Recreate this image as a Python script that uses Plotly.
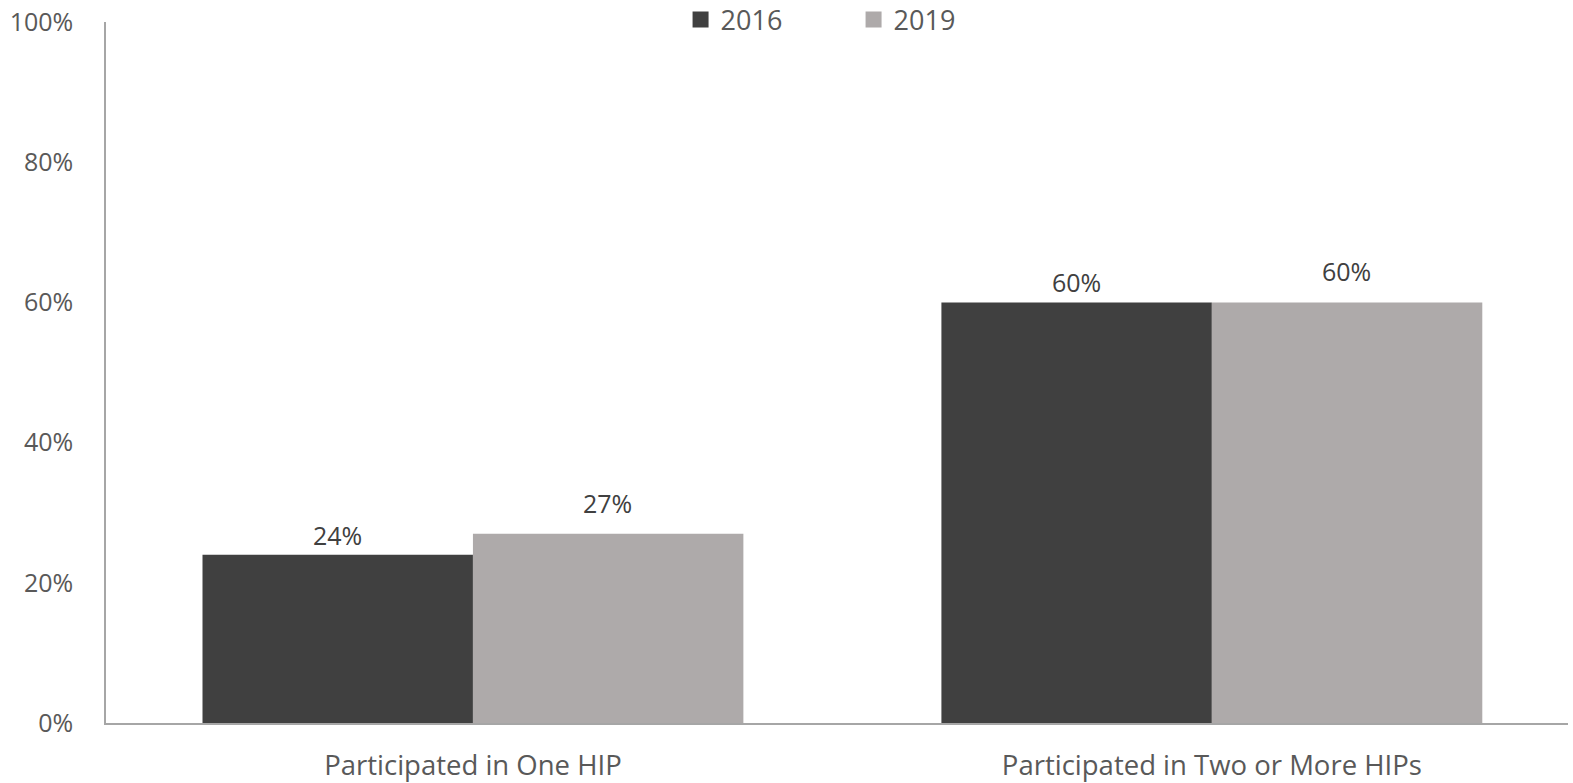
import plotly.graph_objects as go

categories = ["Participated in One HIP", "Participated in Two or More HIPs"]
years = ["2016", "2019"]
values_2016 = [24, 60]
values_2019 = [27, 60]
tick_vals = [0, 20, 40, 60, 80, 100]
tick_text = ["0%", "20%", "40%", "60%", "80%", "100%"]
colors = {"2016": "#404040", "2019": "#AEAAAA"}

FONT = "Open Sans"

fig = go.Figure()
series = {"2016": values_2016, "2019": values_2019}
for yr in years:
    fig.add_trace(
        go.Bar(
            x=categories,
            y=series[yr],
            name=yr,
            showlegend=False,
            marker=dict(color=colors[yr], line=dict(width=0)),
        )
    )
# legend proxies, so the squares are as big as in the original
for yr in years:
    fig.add_trace(
        go.Scatter(
            x=[None], y=[None], mode="markers", name=yr,
            marker=dict(symbol="square", size=18, color=colors[yr]),
        )
    )

# data labels (2019 labels sit a bit higher in the original)
shift = {"2016": (-135, 1), "2019": (135, 12)}
for yr in years:
    for cat, v in zip(categories, series[yr]):
        fig.add_annotation(
            x=cat, y=v, text=f"{v}%", showarrow=False,
            xshift=shift[yr][0], yshift=shift[yr][1], yanchor="bottom",
            font=dict(family=FONT, size=25, color="#404040"),
        )

fig.update_layout(
    width=1573, height=783,
    margin=dict(l=106, r=5, t=22, b=60, autoexpand=False),
    paper_bgcolor="white", plot_bgcolor="white",
    barmode="group", bargap=0.268, bargroupgap=0,
    font=dict(family=FONT, size=25, color="#595959"),
    legend=dict(
        orientation="h", x=0.393, xanchor="left", y=1.003, yanchor="middle",
        font=dict(family=FONT, size=27, color="#595959"),
        entrywidth=128, entrywidthmode="pixels",
        bgcolor="rgba(0,0,0,0)",
    ),
)
fig.update_yaxes(
    range=[0, 100], tickvals=tick_vals, ticktext=tick_text,
    showgrid=False, zeroline=False, showline=True, linecolor="#A6A6A6", linewidth=1.5,
    ticks="", ticklabelstandoff=26, automargin=False,
    tickfont=dict(family=FONT, size=25, color="#595959"),
)
fig.update_xaxes(
    range=[-0.4966, 1.482], showgrid=False, showline=True, linecolor="#A6A6A6", linewidth=1.5,
    ticks="", ticklabelstandoff=17, automargin=False,
    tickfont=dict(family=FONT, size=27.5, color="#595959"),
)

# drop the default page margin so the figure fills the window exactly
fig.write_html(
    "out.html",
    config={"displayModeBar": False},
    post_script="document.body.style.margin='0';document.body.style.overflow='hidden';",
)
